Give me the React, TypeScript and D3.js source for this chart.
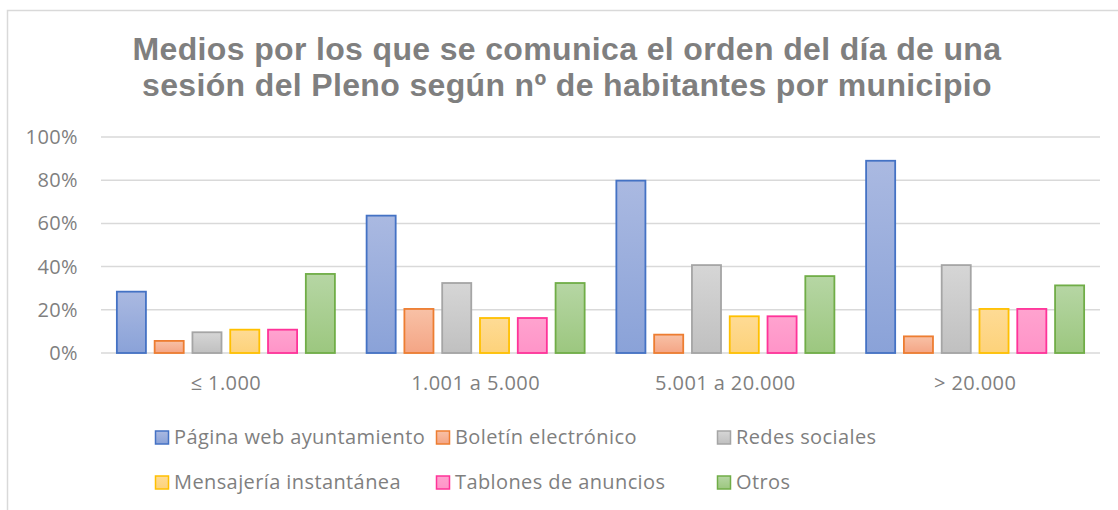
import React from "react";
import * as d3 from "d3";

const categories = ["≤ 1.000", "1.001 a 5.000", "5.001 a 20.000", "> 20.000"];
const seriesNames = [
  "Página web ayuntamiento",
  "Boletín electrónico",
  "Redes sociales",
  "Mensajería instantánea",
  "Tablones de anuncios",
  "Otros",
];
const paginaWeb = [0.284, 0.636, 0.798, 0.89];
const boletin = [0.056, 0.204, 0.085, 0.077];
const redes = [0.096, 0.324, 0.407, 0.407];
const mensajeria = [0.108, 0.162, 0.17, 0.204];
const tablones = [0.108, 0.162, 0.17, 0.204];
const otros = [0.366, 0.324, 0.356, 0.313];
const yTicks = [0, 0.2, 0.4, 0.6, 0.8, 1];

const seriesValues = [paginaWeb, boletin, redes, mensajeria, tablones, otros];

// stroke, gradient top, gradient bottom
const palette = [
  ["#4472c4", "#aab9e1", "#8aa2d8"],
  ["#ed7d31", "#f8c1a6", "#f4a585"],
  ["#a5a5a5", "#d6d6d6", "#c0c0c0"],
  ["#ffc000", "#fedb95", "#fdd27a"],
  ["#ff3399", "#ffa3cf", "#ff94c8"],
  ["#70ad47", "#b6d6a4", "#9cc77f"],
];

const W = 1118;
const H = 510;
const plot = { left: 101, right: 1100, top: 137, bottom: 353 };
const textColor = "#7f7f7f";
const font = "'Open Sans', 'Noto Sans', sans-serif";
const fs = 20;
const ls = 0.4;

export default function App() {
  const x0 = d3
    .scaleBand<string>()
    .domain(categories)
    .range([plot.left, plot.right])
    .paddingInner(0.119)
    .paddingOuter(0.0595);
  const x1 = d3
    .scaleBand<number>()
    .domain(d3.range(seriesNames.length))
    .range([0, x0.bandwidth()])
    .paddingInner(0.178);
  const y = d3.scaleLinear().domain([0, 1]).range([plot.bottom, plot.top]);
  const fmt = d3.format(".0%");

  const legendCols = 3;
  const legendX = 155;
  const legendStep = 281;
  const legendY = 437;
  const legendRow = 45;

  return (
    <svg
      width={W}
      height={H}
      style={{ position: "absolute", left: 0, top: 0, background: "#fff" }}
    >
      <defs>
        {palette.map((c, i) => (
          <linearGradient key={i} id={`g${i}`} x1="0" y1="0" x2="0" y2="1">
            <stop offset="0%" stopColor={c[1]} />
            <stop offset="100%" stopColor={c[2]} />
          </linearGradient>
        ))}
      </defs>
      <rect x={7.5} y={10.5} width={W + 10} height={H + 10} fill="#fff" stroke="#d9d9d9" strokeWidth={1.5} />

      <text
        x={567}
        textAnchor="middle"
        fill={textColor}
        fontFamily="'Liberation Sans', Arial, sans-serif"
        fontWeight="bold"
        fontSize={32}
        letterSpacing={0.35}
      >
        <tspan x={567} y={60}>Medios por los que se comunica el orden del día de una</tspan>
        <tspan x={567} y={96}>sesión del Pleno según nº de habitantes por municipio</tspan>
      </text>

      {yTicks.map((t) => (
        <g key={t}>
          <line x1={plot.left} x2={plot.right} y1={y(t)} y2={y(t)} stroke="#d9d9d9" strokeWidth={1.5} />
          <text
            x={78}
            y={y(t)}
            dy="0.35em"
            textAnchor="end"
            fill={textColor}
            fontFamily={font}
            fontSize={fs}
            letterSpacing={ls}
          >
            {fmt(t)}
          </text>
        </g>
      ))}

      {categories.map((cat, ci) => (
        <g key={cat} transform={`translate(${x0(cat)},0)`}>
          {seriesValues.map((vals, si) => (
            <rect
              key={si}
              x={x1(si)! + 1}
              y={y(vals[ci])}
              width={x1.bandwidth() - 2}
              height={y(0) - y(vals[ci])}
              fill={`url(#g${si})`}
              stroke={palette[si][0]}
              strokeWidth={1.8}
            />
          ))}
          <text
            x={x0.bandwidth() / 2}
            y={390}
            textAnchor="middle"
            fill={textColor}
            fontFamily={font}
            fontSize={fs}
            letterSpacing={ls}
          >
            {cat}
          </text>
        </g>
      ))}

      {seriesNames.map((name, i) => {
        const lx = legendX + (i % legendCols) * legendStep;
        const ly = legendY + Math.floor(i / legendCols) * legendRow;
        return (
          <g key={name} transform={`translate(${lx},${ly})`}>
            <rect x={0.5} y={-6} width={13} height={13} fill={`url(#g${i})`} stroke={palette[i][0]} strokeWidth={1.5} />
            <text x={19} y={0} dy="0.35em" fill={textColor} fontFamily={font} fontSize={fs} letterSpacing={ls}>
              {name}
            </text>
          </g>
        );
      })}
    </svg>
  );
}
